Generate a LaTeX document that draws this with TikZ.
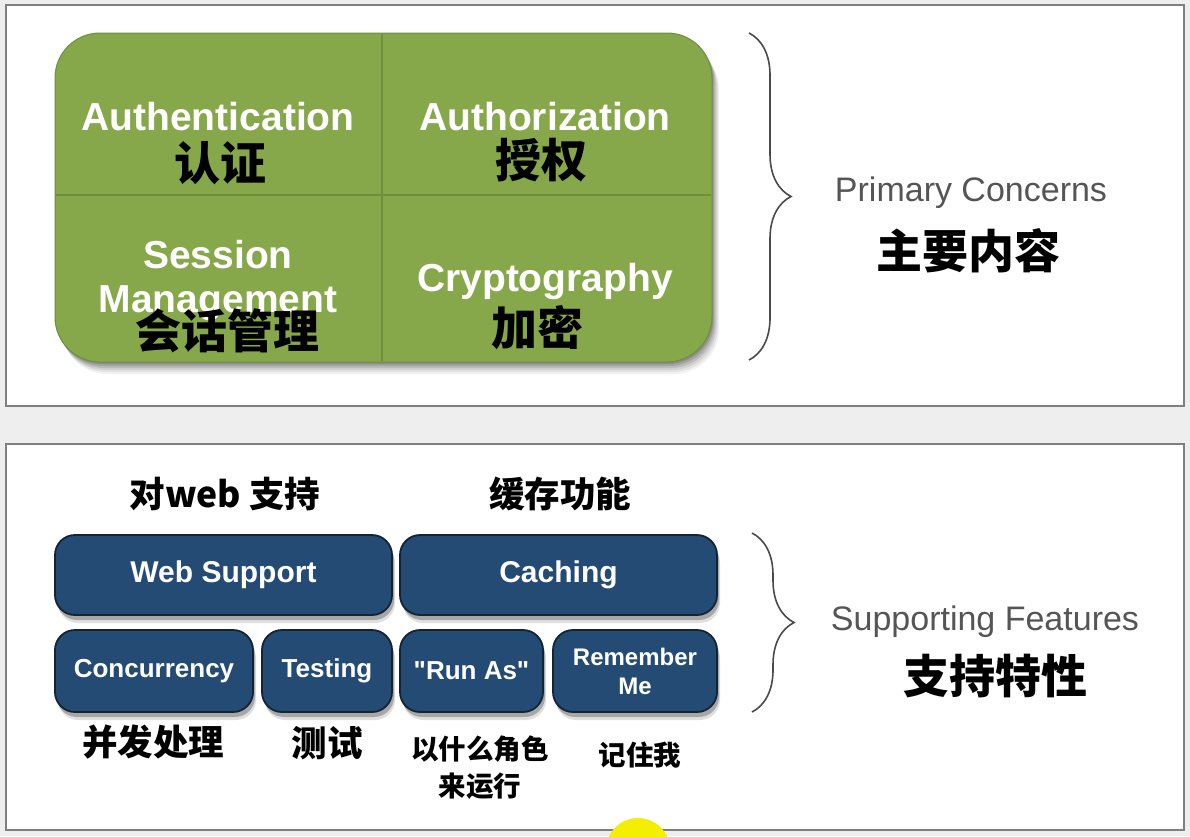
\documentclass[tikz,border=0pt]{standalone}
\usepackage{fontspec}
\setmainfont{Liberation Sans}
\newfontfamily\plainsans{Liberation Sans}
\newfontfamily\cjk{Noto Sans CJK SC}
\usetikzlibrary{decorations.pathreplacing,shadows}
\definecolor{bgc}{HTML}{EEEEEE}
\definecolor{panelline}{HTML}{7F7F7F}
\definecolor{grn}{HTML}{86A84A}
\definecolor{grnline}{HTML}{6E8F3C}
\definecolor{blu}{HTML}{244B74}
\definecolor{bluline}{HTML}{132435}
\definecolor{graytxt}{HTML}{555555}
\definecolor{bracec}{HTML}{4A4A4A}
\definecolor{yel}{HTML}{F4EE00}
\tikzset{
  panel/.style={draw=panelline,line width=2pt,fill=white},
  entxt/.style={text=white,font=\fontsize{39}{42}\selectfont\bfseries,inner sep=0pt},
  cjkbig/.style={text=black,font=\cjk\bfseries\fontsize{46}{48}\selectfont,inner sep=0pt},
  cjkmid/.style={text=black,font=\cjk\bfseries\fontsize{35.5}{38}\selectfont,inner sep=0pt},
  cjksmall/.style={text=black,font=\cjk\bfseries\fontsize{27.5}{37}\selectfont,inner sep=0pt,align=center},
  sidetxt/.style={text=graytxt,font=\fontsize{34}{36}\selectfont,inner sep=0pt},
  bluebox/.style={draw=bluline,line width=1.8pt,fill=blu,rounded corners=20pt,text=white,
    font=\bfseries,inner sep=0pt,align=center,
    drop shadow={shadow xshift=3pt,shadow yshift=-8pt,opacity=0.12,fill=black},
    drop shadow={shadow xshift=2pt,shadow yshift=-5pt,opacity=0.25,fill=black}},
  bigfont/.style={font=\fontsize{30}{32}\selectfont\bfseries},
  smallfont/.style={font=\fontsize{26}{28}\selectfont\bfseries},
  bracestyle/.style={draw=bracec,line width=1.6pt,decorate,decoration={brace,amplitude=42pt}},
  gridline/.style={draw=grnline,line width=2pt}
}
\begin{document}
\begin{tikzpicture}[x=1pt,y=-1pt]
\useasboundingbox (0,0) rectangle (1190,836);
\fill[bgc] (0,0) rectangle (1190,836);
% panels
\draw[panel] (6,5) rectangle (1184,406);
\draw[panel] (6,444) rectangle (1184,830);
% green box shadow
\foreach \s/\o in {12/0.05,10/0.06,8/0.08,6/0.1,4/0.12,2/0.14}
  \fill[black,opacity=\o,rounded corners=45pt] (55+0.6*\s,33+\s) rectangle (712+0.6*\s,362+\s);
\fill[grn,rounded corners=45pt] (55,33) rectangle (712,362);
\draw[grnline,line width=1pt,rounded corners=45pt] (55,33) rectangle (712,362);
\draw[gridline] (382,34) -- (382,361);
\draw[gridline] (56,195) -- (711,195);
% cell texts
\node[entxt] (authn) at (218,117) {Authentication};
\node[cjkbig] (authncn) at (220,163) {认证};
\node[entxt] (authz) at (545,117) {Authorization};
\node[cjkbig] (authzcn) at (541,160) {授权};
\node[entxt] (sess) at (218,255) {Session};
\node[entxt] (mgmt) at (218,303) {Management};
\node[cjkbig] (sesscn) at (227,331) {会话管理};
\node[entxt] (crypt) at (545,281) {Cryptography};
\node[cjkbig] (cryptcn) at (537,328) {加密};
% top brace
\coordinate (tb1) at (749,33);
\coordinate (tb2) at (749,360);
\draw[bracestyle] (tb1) -- (tb2);
\node[sidetxt] (prim) at (971,193) {Primary Concerns};
\node[cjkbig] (primcn) at (968,251) {主要内容};
% bottom panel
\node[cjkmid] (webcn) at (225,494) {对web 支持};
\node[cjkmid] (cachecn) at (560,494) {缓存功能};
\node[bluebox,bigfont,minimum width=337pt,minimum height=80pt] (web) at (223.5,575) {Web Support};
\node[bluebox,bigfont,minimum width=317pt,minimum height=80pt] (cache) at (558.5,575) {Caching};
\node[bluebox,smallfont,minimum width=198pt,minimum height=82pt] (conc) at (154,671) {Concurrency};
\node[bluebox,smallfont,minimum width=130pt,minimum height=82pt] (test) at (327,671) {Testing};
\node[bluebox,font=\plainsans\bfseries\fontsize{26}{28}\selectfont,minimum width=143pt,minimum height=82pt] (runas) at (471.5,671) {"Run As"};
\node[bluebox,font=\fontsize{24}{31}\selectfont\bfseries,minimum width=164pt,minimum height=82pt] (remme) at (635,671) {Remember\\[-2pt]Me};
\node[cjkmid] (conccn) at (153,742) {并发处理};
\node[cjkmid] (testcn) at (327,743) {测试};
\node[cjksmall] (runascn) at (480,768) {以什么角色\\来运行};
\node[cjksmall] (remmecn) at (640,755) {记住我};
% bottom brace
\coordinate (bb1) at (752,533);
\coordinate (bb2) at (752,712);
\draw[bracestyle] (bb1) -- (bb2);
\node[sidetxt] (supp) at (985,622) {Supporting Features};
\node[cjkbig] (suppcn) at (995,676) {支持特性};
% yellow cursor highlight
\begin{scope}
\clip (0,0) rectangle (1190,836);
\fill[yel] (638,850) circle (32pt);
\end{scope}
\end{tikzpicture}
\end{document}
